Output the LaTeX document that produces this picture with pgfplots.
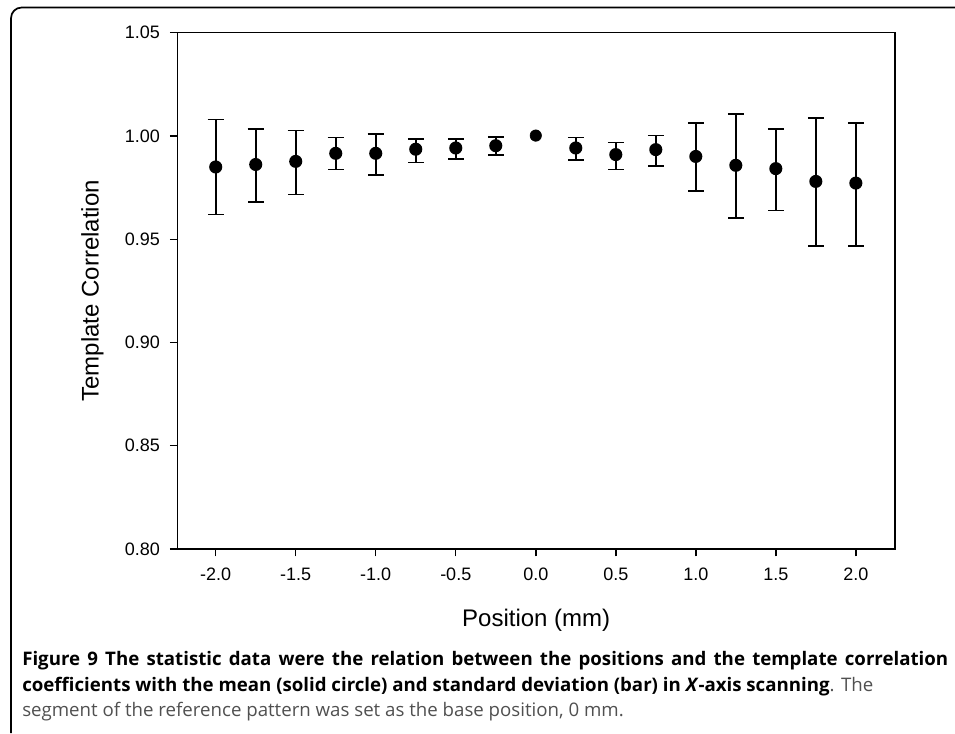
\documentclass[border=0pt]{standalone}
\usepackage{pgfplots}
\pgfplotsset{compat=1.18}
\usepackage{pgfplotstable}
\usepackage{fontspec}
\setmainfont{Liberation Sans}
\newfontfamily\capfont{Open Sans}
\definecolor{capgray}{RGB}{80,80,80}
\pgfplotstableread{
x y ep em
-2.00 0.9850 0.0230 0.0230
-1.75 0.9862 0.0173 0.0182
-1.50 0.9877 0.0150 0.0160
-1.25 0.9916 0.0077 0.0078
-1.00 0.9916 0.0095 0.0105
-0.75 0.9936 0.0049 0.0064
-0.50 0.9942 0.0043 0.0052
-0.25 0.9953 0.0042 0.0045
0.25 0.9942 0.0051 0.0060
0.50 0.9910 0.0058 0.0072
0.75 0.9934 0.0069 0.0078
1.00 0.9901 0.0162 0.0168
1.25 0.9858 0.0248 0.0254
1.50 0.9842 0.0193 0.0203
1.75 0.9780 0.0307 0.0313
2.00 0.9772 0.0291 0.0305
}\datatab
\pgfplotstableread{
x y
0.00 1.0002
}\centertab
\begin{document}
\begin{tikzpicture}
\begin{scope}[x=0.75pt,y=-0.75pt]
\useasboundingbox (0,0) rectangle (955,733);
\draw[line width=1.3pt, rounded corners=8pt] (11,733) -- (11,7.5) -- (955,7.5);
\node[anchor=west, inner sep=0pt] at (22,661) {\makebox[694.5pt][s]{\capfont\fontsize{14}{16}\selectfont\bfseries Figure 9 The statistic data were the relation between the positions and the template correlation}};
\node[anchor=west, inner sep=0pt] at (22,687) {\capfont\fontsize{14}{16}\selectfont{\bfseries coefficients with the mean (solid circle) and standard deviation (bar) in \textit{X}-axis scanning}\textcolor{capgray}{. The}};
\node[anchor=west, inner sep=0pt] at (22,712) {\capfont\fontsize{14}{16}\selectfont\color{capgray}segment of the reference pattern was set as the base position, 0 mm.};
\end{scope}
\begin{axis}[
  at={(132.975pt,-411.75pt)}, anchor=south west,
  scale only axis, width=538.3pt, height=387.2pt,
  xmin=-2.24, xmax=2.245, ymin=0.80, ymax=1.05,
  xtick={-2,-1.5,-1,-0.5,0,0.5,1,1.5,2},
  ytick={0.80,0.85,0.90,0.95,1.00,1.05},
  xticklabel={\pgfmathprintnumber[fixed,fixed zerofill,precision=1]{\tick}},
  yticklabel={\pgfmathprintnumber[fixed,fixed zerofill,precision=2]{\tick}},
  /pgf/number format/assume math mode=true,
  tick align=outside, xtick pos=left, ytick pos=left,
  major tick length=5.6pt,
  axis line style={line width=1.1pt},
  every tick/.style={black, line width=1.1pt},
  tick label style={font=\fontsize{13.5}{15}\selectfont},
  xticklabel style={yshift=-5pt},
  yticklabel style={xshift=-4pt},
  xlabel={Position (mm)},
  ylabel={Template Correlation},
  every axis x label/.style={at={(axis description cs:0.5,0)}, yshift=-53.25pt, anchor=center, font=\fontsize{18}{21}\selectfont},
  every axis y label/.style={at={(axis description cs:0,0.5)}, xshift=-63.75pt, rotate=90, anchor=center, font=\fontsize{18}{21}\selectfont},
  clip=false,
]
\addplot[black, only marks, mark=*, mark size=4.3pt, line width=1.2pt,
  error bars/.cd, y dir=both, y explicit,
  error bar style={line width=1.3pt, black},
  error mark options={black, line width=1.3pt, mark size=6pt, rotate=90}]
  table[x=x, y=y, y error plus=ep, y error minus=em] {\datatab};
\addplot[black, only marks, mark=*, mark size=4.3pt] table[x=x, y=y] {\centertab};
\end{axis}
\end{tikzpicture}
\end{document}
